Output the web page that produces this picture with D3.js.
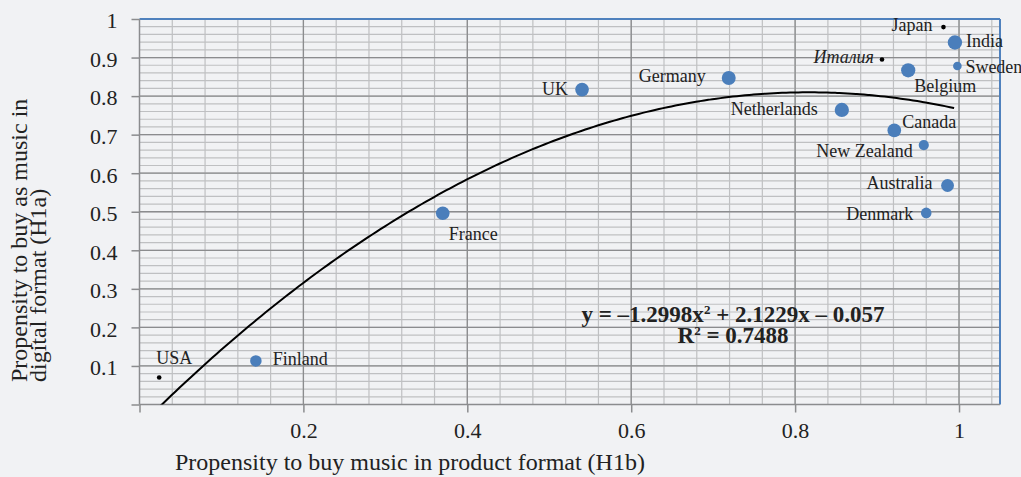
<!DOCTYPE html>
<html>
<head>
<meta charset="utf-8">
<script src="https://cdn.jsdelivr.net/npm/d3@7"></script>
<style>
body { margin: 0; background: #f1f2f4; }
svg { display: block; font-family: "Liberation Serif", "Times New Roman", serif; }
</style>
</head>
<body>
<script>
var width = 1021;
var height = 477;

// values
var countries = ["Japan", "India", "Италия", "Sweden", "Belgium", "Netherlands", "Canada",
                 "New Zealand", "Australia", "Denmark", "UK", "Germany", "France", "Finland", "USA"];
var product = [0.981, 0.995, 0.906, 0.998, 0.938, 0.857, 0.921, 0.957, 0.986, 0.960, 0.540, 0.719, 0.370, 0.142, 0.024];
var digital = [0.979, 0.939, 0.895, 0.878, 0.867, 0.764, 0.711, 0.673, 0.568, 0.497, 0.817, 0.847, 0.496, 0.113, 0.070];
// bubble size (null = plain black marker)
var weight = [null, 50, null, 18, 49, 49, 45, 25, 40, 27, 45, 47, 45, 32, null];
// trendline y = a x^2 + b x + c
var trend = [-1.2998, 2.1229, -0.057];
var rSquared = 0.7488;
var xTicks = [0, 0.2, 0.4, 0.6, 0.8, 1];
var yTicks = [0, 0.1, 0.2, 0.3, 0.4, 0.5, 0.6, 0.7, 0.8, 0.9, 1];

// where each label sits next to its point: anchor, dx, dy
var labelPos = {
    "Japan":       ["end", -11, 3.5],
    "India":       ["start", 11, 4],
    "Италия":      ["end", -8, 4],
    "Sweden":      ["start", 8, 7],
    "Belgium":     ["start", 6, 22],
    "Netherlands": ["end", -24, 5],
    "Canada":      ["start", 8, -2],
    "New Zealand": ["end", -11, 12],
    "Australia":   ["end", -15, 3],
    "Denmark":     ["end", -13, 7],
    "UK":          ["end", -14, 5],
    "Germany":     ["end", -23, 4],
    "France":      ["start", 6, 27],
    "Finland":     ["start", 17, 4],
    "USA":         ["start", -3, -14]
};

var data = countries.map(function (c, i) {
    return {name: c, x: product[i], y: digital[i], w: weight[i]};
});

var pLeft = 139.5, pRight = 1000, pTop = 19, pBottom = 404.5;

var x = d3.scaleLinear().domain([0, 1.05]).range([pLeft, pRight]);
var y = d3.scaleLinear().domain([0, 1]).range([pBottom, pTop]);
var r = d3.scaleSqrt().domain([0, 50]).range([0, 7.2]);

var svg = d3.select("body").append("svg")
    .attr("width", width)
    .attr("height", height);

svg.append("rect")
    .attr("width", width)
    .attr("height", height)
    .attr("fill", "#f1f2f4");

svg.append("defs").append("clipPath").attr("id", "plot")
    .append("rect")
    .attr("x", pLeft).attr("y", pTop)
    .attr("width", pRight - pLeft).attr("height", pBottom - pTop);

// minor grid
var minorX = d3.range(1, 27).map(function (i) { return +(i * 0.04).toFixed(2); });
var minorY = d3.range(1, 50).map(function (i) { return +(i * 0.02).toFixed(2); });

var grid = svg.append("g");
grid.selectAll(".mx").data(minorX).enter().append("line")
    .attr("x1", function (d) { return x(d); }).attr("x2", function (d) { return x(d); })
    .attr("y1", pTop).attr("y2", pBottom)
    .style("stroke", "#bfc0c2").style("stroke-width", 1.2);
grid.selectAll(".my").data(minorY).enter().append("line")
    .attr("x1", pLeft).attr("x2", pRight)
    .attr("y1", function (d) { return y(d); }).attr("y2", function (d) { return y(d); })
    .style("stroke", "#bfc0c2").style("stroke-width", 1.2);

// major grid
grid.selectAll(".Mx").data(xTicks.filter(function (d) { return d > 0; })).enter().append("line")
    .attr("x1", function (d) { return x(d); }).attr("x2", function (d) { return x(d); })
    .attr("y1", pTop).attr("y2", pBottom)
    .style("stroke", "#8b8c8e").style("stroke-width", 1.3);
grid.selectAll(".My").data(yTicks.filter(function (d) { return d > 0 && d < 1; })).enter().append("line")
    .attr("x1", pLeft).attr("x2", pRight)
    .attr("y1", function (d) { return y(d); }).attr("y2", function (d) { return y(d); })
    .style("stroke", "#8b8c8e").style("stroke-width", 1.3);

// top and right border
svg.append("line")
    .attr("x1", pLeft).attr("x2", pRight).attr("y1", pTop).attr("y2", pTop)
    .style("stroke", "#4f81bd").style("stroke-width", 2);
svg.append("line")
    .attr("x1", pRight).attr("x2", pRight).attr("y1", pTop).attr("y2", pBottom)
    .style("stroke", "#4f81bd").style("stroke-width", 2);

// axes
var fmt = function (d) { return d === 0 ? "" : d.toString(); };

var yAxis = svg.append("g")
    .attr("transform", "translate(" + pLeft + ",0)")
    .call(d3.axisLeft(y).tickValues(yTicks).tickSize(8).tickPadding(14).tickFormat(fmt));
var xAxis = svg.append("g")
    .attr("transform", "translate(0," + pBottom + ")")
    .call(d3.axisBottom(x).tickValues(xTicks).tickSize(8).tickPadding(10).tickFormat(fmt));

[xAxis, yAxis].forEach(function (a) {
    a.select(".domain").remove();
    a.selectAll("line").style("stroke", "#8b8c8e").style("stroke-width", 1.5);
    a.selectAll("text")
        .style("font-family", "\"Liberation Serif\", serif")
        .style("font-size", "22px")
        .style("fill", "#222");
});
yAxis.selectAll("text").attr("dy", "0.4em");

svg.append("line")
    .attr("x1", pLeft).attr("x2", pLeft).attr("y1", pTop).attr("y2", pBottom)
    .style("stroke", "#8b8c8e").style("stroke-width", 1.5);
svg.append("line")
    .attr("x1", pLeft).attr("x2", pRight).attr("y1", pBottom).attr("y2", pBottom)
    .style("stroke", "#8b8c8e").style("stroke-width", 1.5);

// trendline
var xs = d3.range(d3.min(product), d3.max(product) + 0.0001, 0.005);
var line = d3.line()
    .x(function (d) { return x(d); })
    .y(function (d) { return y(trend[0] * d * d + trend[1] * d + trend[2]); })
    .curve(d3.curveMonotoneX);

svg.append("path")
    .datum(xs)
    .attr("clip-path", "url(#plot)")
    .attr("d", line)
    .style("fill", "none")
    .style("stroke", "#000")
    .style("stroke-width", 2);

// points
svg.selectAll(".pt").data(data).enter().append("circle")
    .attr("cx", function (d) { return x(d.x); })
    .attr("cy", function (d) { return y(d.y); })
    .attr("r", function (d) { return d.w === null ? 2.3 : r(d.w); })
    .attr("fill", function (d) { return d.w === null ? "#000" : "#4a7ebb"; });

// labels
svg.selectAll(".lbl").data(data).enter().append("text")
    .attr("x", function (d) { return x(d.x) + labelPos[d.name][1]; })
    .attr("y", function (d) { return y(d.y) + labelPos[d.name][2]; })
    .attr("text-anchor", function (d) { return labelPos[d.name][0]; })
    .style("font-style", function (d) { return d.name === "Италия" ? "italic" : "normal"; })
    .style("font-size", "18px")
    .style("fill", "#222")
    .text(function (d) { return d.name; });

// equation
var eq = svg.append("text")
    .attr("x", 733).attr("y", 322)
    .attr("text-anchor", "middle")
    .style("font-size", "23px").style("font-weight", "bold").style("fill", "#222");
eq.append("tspan").text("y = –" + Math.abs(trend[0]) + "x");
eq.append("tspan").attr("dy", -8).style("font-size", "13px").text("2");
eq.append("tspan").attr("dy", 8).text(" + " + trend[1] + "x – " + Math.abs(trend[2]));

var r2 = svg.append("text")
    .attr("x", 733).attr("y", 343)
    .attr("text-anchor", "middle")
    .style("font-size", "23px").style("font-weight", "bold").style("fill", "#222");
r2.append("tspan").text("R");
r2.append("tspan").attr("dy", -8).style("font-size", "13px").text("2");
r2.append("tspan").attr("dy", 8).text(" = " + rSquared);

// axis titles
svg.append("text")
    .attr("x", 175).attr("y", 470)
    .style("font-size", "24px").style("fill", "#222")
    .text("Propensity to buy music in product format (H1b)");

svg.append("text")
    .attr("transform", "translate(27,382) rotate(-90)")
    .style("font-size", "24px").style("fill", "#222")
    .text("Propensity to buy as music in");
svg.append("text")
    .attr("transform", "translate(46,382) rotate(-90)")
    .style("font-size", "24px").style("fill", "#222")
    .text("digital format (H1a)");
</script>
</body>
</html>
